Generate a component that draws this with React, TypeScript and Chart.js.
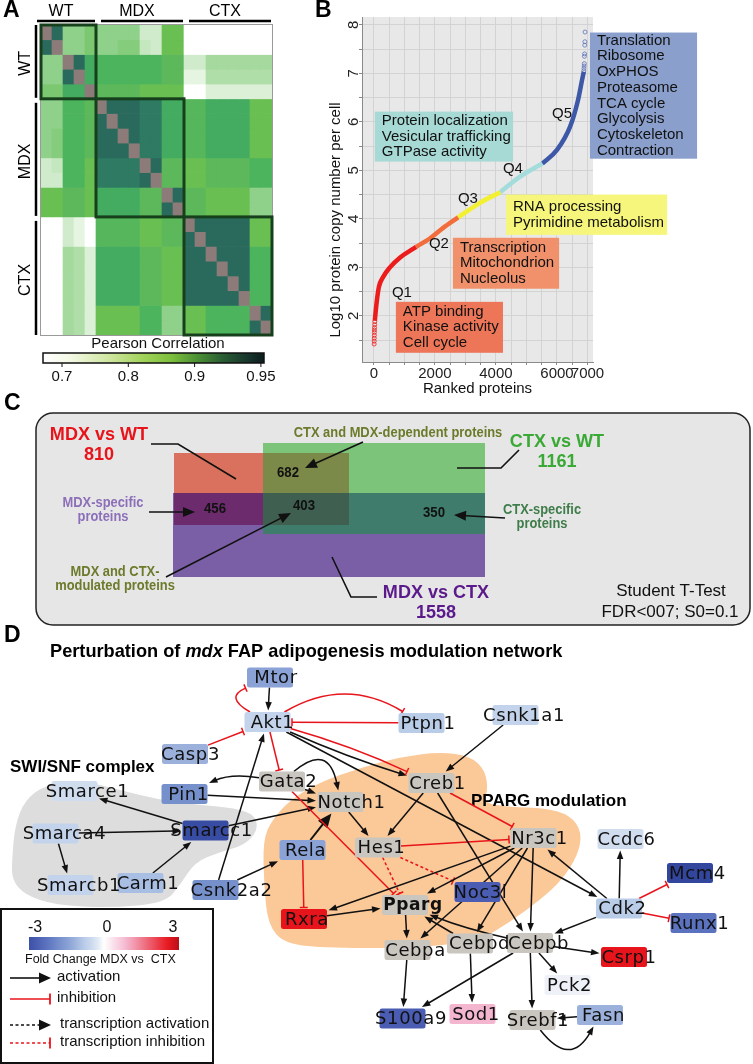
import React, { useEffect, useRef } from "react";
import { Chart, registerables } from "chart.js";

Chart.register(...registerables);

const SANS = "'Liberation Sans', Arial, Helvetica, sans-serif";
const NODE_FONT = "'DejaVu Sans', Verdana, sans-serif";

/* ================= Panel A data ================= */
const heatGroups = ["WT", "MDX", "CTX"];
const heatGroupSizes = [5, 8, 8];
const heatSamples = [
  "WT-1", "WT-2", "WT-3", "WT-4", "WT-5",
  "MDX-1", "MDX-2", "MDX-3", "MDX-4", "MDX-5", "MDX-6", "MDX-7", "MDX-8",
  "CTX-1", "CTX-2", "CTX-3", "CTX-4", "CTX-5", "CTX-6", "CTX-7", "CTX-8",
];
// Pearson correlation x100 (100 = self)
const heatCorr = [
  [100, 93, 80, 80, 82, 80, 80, 80, 80, 74, 74, 84, 84, 70, 70, 70, 70, 70, 70, 70, 70],
  [93, 100, 80, 80, 82, 80, 80, 81, 81, 75, 74, 84, 84, 70, 70, 70, 70, 70, 70, 70, 70],
  [80, 80, 100, 93, 87, 86, 86, 86, 86, 86, 86, 85, 85, 74, 74, 78, 78, 78, 78, 78, 78],
  [80, 80, 93, 100, 87, 86, 86, 86, 86, 86, 86, 85, 85, 72, 72, 77, 77, 77, 77, 77, 77],
  [82, 82, 87, 87, 100, 85, 85, 85, 85, 84, 84, 84, 84, 70, 70, 73, 73, 73, 73, 73, 73],
  [80, 80, 86, 86, 85, 100, 93, 93, 93, 91.5, 91.5, 87, 87, 85.5, 85.5, 87, 87, 87, 87, 84, 84],
  [80, 80, 86, 86, 85, 93, 100, 93, 93, 91.5, 91.5, 87, 87, 85.5, 85.5, 87, 87, 87, 87, 84, 84],
  [80, 81, 86, 86, 85, 93, 93, 100, 93, 91.5, 91.5, 87, 87, 85.5, 85.5, 87, 87, 87, 87, 84, 84],
  [80, 81, 86, 86, 85, 93, 93, 93, 100, 91.5, 91.5, 87, 87, 85.5, 85.5, 87, 87, 87, 87, 84, 84],
  [74, 75, 86, 86, 84, 91.5, 91.5, 91.5, 91.5, 100, 93, 85, 85, 84, 84, 85, 85, 85, 85, 86, 86],
  [74, 74, 86, 86, 84, 91.5, 91.5, 91.5, 91.5, 93, 100, 85, 85, 84, 84, 85, 85, 85, 85, 86, 86],
  [84, 84, 85, 85, 84, 87, 87, 87, 87, 85, 85, 100, 93, 85, 85, 84, 84, 84, 84, 80, 80],
  [84, 84, 85, 85, 84, 87, 87, 87, 87, 85, 85, 93, 100, 85, 85, 84, 84, 84, 84, 80, 80],
  [70, 70, 74, 72, 70, 85.5, 85.5, 85.5, 85.5, 84, 84, 85, 85, 100, 93, 93, 93, 93, 93, 84, 84],
  [70, 70, 74, 72, 70, 85.5, 85.5, 85.5, 85.5, 84, 84, 85, 85, 93, 100, 93, 93, 93, 93, 84, 84],
  [70, 70, 78, 77, 73, 87, 87, 87, 87, 85, 85, 84, 84, 93, 93, 100, 93, 93, 93, 86, 86],
  [70, 70, 78, 77, 73, 87, 87, 87, 87, 85, 85, 84, 84, 93, 93, 93, 100, 93, 93, 86, 86],
  [70, 70, 78, 77, 73, 87, 87, 87, 87, 85, 85, 84, 84, 93, 93, 93, 93, 100, 93, 86, 86],
  [70, 70, 78, 77, 73, 87, 87, 87, 87, 85, 85, 84, 84, 93, 93, 93, 93, 93, 100, 86, 86],
  [70, 70, 78, 77, 73, 84, 84, 84, 84, 86, 86, 80, 80, 84, 84, 86, 86, 86, 86, 100, 93],
  [70, 70, 78, 77, 73, 84, 84, 84, 84, 86, 86, 80, 80, 84, 84, 86, 86, 86, 86, 93, 100],
];
const corrTicks = [0.7, 0.8, 0.9, 0.95];

/* ================= Panel B data ================= */
const quintileNames = ["Q1", "Q2", "Q3", "Q4", "Q5"];
const q1Rank = [30, 60, 100, 165, 300, 525, 850, 1280, 1380];
const q1Log = [1.9, 2.1, 2.33, 2.6, 2.8, 3.0, 3.2, 3.38, 3.42];
const q2Rank = [1380, 1840, 2260, 2760];
const q2Log = [3.42, 3.6, 3.81, 4.03];
const q3Rank = [2760, 3475, 4140];
const q3Log = [4.03, 4.33, 4.55];
const q4Rank = [4140, 4790, 5520];
const q4Log = [4.55, 4.87, 5.14];
const q5Rank = [5520, 6000, 6430, 6690, 6850, 6880];
const q5Log = [5.14, 5.42, 5.9, 6.45, 6.95, 7.03];
const lowRank = [8, 10, 12, 14, 16, 18, 20, 24, 28];
const lowLog = [1.42, 1.48, 1.54, 1.6, 1.66, 1.71, 1.76, 1.82, 1.88];
const highRank = [6880, 6885, 6890, 6895, 6900, 6905, 6910, 6915, 6920];
const highLog = [7.05, 7.1, 7.15, 7.2, 7.35, 7.4, 7.58, 7.65, 7.85];
const xGridRanks = [0, 500, 1000, 1500, 2000, 2500, 3000, 3500, 4000, 4500, 5000, 5500, 6000, 6500, 7000];
const xTickLabels = [0, 2000, 4000, 6000, 7000];
const yGridValues = [1.5, 2, 2.5, 3, 3.5, 4, 4.5, 5, 5.5, 6, 6.5, 7, 7.5, 8];
const yTickLabels = [2, 3, 4, 5, 6, 7, 8];
const termGroups = [
  ["ATP binding", "Kinase activity", "Cell cycle"],
  ["Transcription", "Mitochondrion", "Nucleolus"],
  ["RNA processing", "Pyrimidine metabolism"],
  ["Protein localization", "Vesicular trafficking", "GTPase activity"],
  ["Translation", "Ribosome", "OxPHOS", "Proteasome", "TCA cycle", "Glycolysis", "Cytoskeleton", "Contraction"],
];
const qLabelRank = [918, 2131, 3082, 4557, 6164];
const qLabelLog = [2.47, 3.48, 4.41, 5.03, 6.16];

/* ================= Panel C data ================= */
const vennSets = ["MDX vs WT", "CTX vs WT", "MDX vs CTX"];
const vennTotals = [810, 1161, 1558];
const vennRegionNames = [
  ["CTX and MDX-dependent proteins"],
  ["MDX-specific", "proteins"],
  ["MDX and CTX-", "modulated proteins"],
  ["CTX-specific", "proteins"],
];
const vennRegionCounts = [682, 456, 403, 350];

/* ================= Panel D data ================= */
const geneNames = [
  "Mtor", "Akt1", "Casp3", "Pin1", "Gata2", "Notch1", "Smarce1", "Smarca4", "Smarcc1", "Rela",
  "Hes1", "Smarcb1", "Carm1", "Csnk2a2", "Ptpn1", "Csnk1a1", "Creb1", "Nr3c1", "Ccdc6", "Mcm4",
  "Noc3l", "Cdk2", "Runx1", "Rxra", "Pparg", "Cebpa", "Cebpd", "Cebpb", "Csrp1", "Pck2",
  "S100a9", "Sod1", "Srebf1", "Fasn",
];
// fold change MDX vs CTX (null = not quantified, grey)
const geneFoldChange = [
  -1.4, -0.6, -1.2, -1.8, null, null, -0.45, -0.6, -3.2, -1.4,
  null, -0.6, -1.0, -1.8, -0.8, -0.6, null, null, -0.45, -3.4,
  -2.7, -0.8, -2.3, 2.6, null, null, null, null, 2.6, -0.1,
  -2.7, 0.9, null, -1.2,
];
const networkEdges = [
  ["Mtor", "Akt1", "act", 0],
  ["Akt1", "Mtor", "inh", 1.0],
  ["Casp3", "Akt1", "inh", 0],
  ["Ptpn1", "Akt1", "inh", 0],
  ["Akt1", "Ptpn1", "inh", 0.3],
  ["Akt1", "Gata2", "inh", 0],
  ["Akt1", "Creb1", "act", -0.03],
  ["Akt1", "Creb1", "inh", 0.04],
  ["Akt1", "Cdk2", "act", 0],
  ["Csnk2a2", "Akt1", "act", 0],
  ["Gata2", "Pin1", "act", -0.15],
  ["Gata2", "Notch1", "act", 0.85],
  ["Gata2", "Notch1", "act", 0],
  ["Pin1", "Notch1", "act", 0],
  ["Smarcc1", "Notch1", "act", 0],
  ["Smarcc1", "Smarce1", "act", 0],
  ["Smarca4", "Smarcc1", "act", 0],
  ["Smarca4", "Smarcb1", "act", 0],
  ["Carm1", "Smarcc1", "act", 0],
  ["Csnk2a2", "Rela", "act", 0],
  ["Rela", "Notch1", "act", 0, 2],
  ["Rela", "Rxra", "inh", 0],
  ["Gata2", "Pparg", "inh", 0],
  ["Notch1", "Hes1", "act", 0],
  ["Creb1", "Hes1", "act", 0],
  ["Creb1", "Nr3c1", "inh", 0],
  ["Hes1", "Nr3c1", "inh", 0],
  ["Hes1", "Pparg", "tinh", 0],
  ["Hes1", "Noc3l", "tinh", 0],
  ["Csnk1a1", "Creb1", "act", 0],
  ["Creb1", "Cebpb", "act", 0],
  ["Nr3c1", "Rxra", "act", 0],
  ["Nr3c1", "Pparg", "act", 0],
  ["Nr3c1", "Cebpa", "act", 0],
  ["Nr3c1", "Cebpd", "act", 0],
  ["Nr3c1", "Cebpb", "act", 0],
  ["Cdk2", "Nr3c1", "act", 0],
  ["Cdk2", "Ccdc6", "act", 0],
  ["Cdk2", "Mcm4", "inh", 0],
  ["Cdk2", "Runx1", "inh", 0],
  ["Cdk2", "Cebpb", "act", 0],
  ["Rxra", "Pparg", "act", 0],
  ["Cebpb", "Pparg", "act", 0.04],
  ["Cebpd", "Pparg", "act", 0],
  ["Pparg", "Cebpa", "act", 0],
  ["Cebpa", "S100a9", "act", 0],
  ["Cebpd", "Sod1", "act", 0],
  ["Cebpb", "S100a9", "act", 0],
  ["Cebpb", "Srebf1", "act", 0],
  ["Cebpb", "Pck2", "act", 0],
  ["Cebpb", "Csrp1", "act", 0],
  ["Fasn", "Srebf1", "act", 0],
  ["Srebf1", "Fasn", "act", -0.75],
];
const legendTypes = ["act", "inh", "tact", "tinh"];
const legendNames = ["activation", "inhibition", "transcription activation", "transcription inhibition"];
const fcTicks = [-3, 0, 3];

/* ================= layout / style (not data) ================= */
const HEAT_STOPS = [
  [70, "#ffffff"], [72, "#e6f5e2"], [74, "#d0ebcb"], [77, "#b0dea8"], [80, "#8fd08a"], [82, "#7cc870"],
  [84, "#6abf52"], [85, "#5cb85a"], [86, "#4db45e"], [87, "#43ac60"], [91.5, "#2e7a63"], [93, "#2a6a5d"], [95, "#163b33"],
];
const DIAG_COLOR = "#8c7b78";
const CBAR_STOPS = [
  [0, "#ffffff"], [0.12, "#f4f9e6"], [0.3, "#cfe6a0"], [0.45, "#a2d35c"], [0.58, "#7dbf3c"],
  [0.7, "#4b8f35"], [0.82, "#285a33"], [0.93, "#16342c"], [1, "#0c1c1c"],
];
const Q_COLORS = ["#ec1c1c", "#f26c3c", "#f3f032", "#a4dcdc", "#3e58a8"];
const TERM_BOX = [
  [720, 4230, 2.29, 1.24], [2590, 6070, 3.61, 2.56], [4330, 9610, 4.5, 3.67],
  [30, 4560, 6.21, 5.18], [7080, 10590, 7.84, 5.24],
];
const TERM_COLORS = ["#ee7658", "#f1916b", "#f6f67c", "#a7d9d5", "#8a9fcc"];

const VENN_RECTS = [[174, 453, 349, 525], [263, 443, 485, 534], [173, 493, 485, 577]];
const VENN_FILLS = ["#d9715e", "#7dc47b", "#7b5fa6"];
const VENN_RG = "#7b8a49", VENN_RP = "#6c2b6d", VENN_GP = "#3f7c6b", VENN_RGP = "#3f5f50";
const VENN_SET_POS = [[99, 435], [557, 442], [436, 593]];
const VENN_SET_COLORS = ["#e8141b", "#3aa935", "#5b1a8b"];
const VENN_COUNT_POS = [[288, 473], [215, 509], [304, 506], [434, 513]];
const VENN_REGION_POS = [[398, 433], [103, 503], [115, 572], [542, 510]];
const VENN_REGION_COLORS = ["#6b7b2b", "#8c6fb8", "#6b7b2b", "#3f7d4a"];
const VENN_LEADERS = [
  [[[151, 444], [178, 444], [236, 479]], false],
  [[[519, 450], [501, 468], [457, 468]], false],
  [[[363, 442], [305, 468]], true],
  [[[149, 512], [195, 512]], true],
  [[[505, 518], [454, 515]], true],
  [[[166, 577], [291, 513]], true],
  [[[377, 597], [351, 597], [332, 557]], false],
];

const NODE_X = [
  270, 267.5, 185, 184.5, 282, 340.5, 74.5, 55.5, 205.5, 302.5,
  378, 70.5, 140.5, 215.5, 421.5, 515.5, 431.5, 533.5, 620.5, 690,
  477.5, 619, 693.5, 304, 405, 407.5, 470, 530, 624, 567.5,
  402.5, 472.5, 532.5, 600,
];
const NODE_Y = [
  677.5, 722, 754, 794, 781.5, 802, 791, 833.5, 830.5, 850,
  847.5, 885, 883, 890, 723, 715, 783, 838, 839, 873,
  892, 908.5, 923, 919, 905, 950, 943.5, 943, 957, 985,
  1018.5, 1014, 1020, 1015,
];
const LABEL_DX = [
  6, 5, 5.5, 4, 6.5, 11, 13, 9, 6, 3,
  3.5, 8.5, 7.5, 16, 6.5, 8.5, 6, 6, 6, 7.5,
  3, 3.5, 6, 3, 8, 8, 9.5, 8.5, 5, 2,
  8.5, 3.5, 5.5, 3.5,
];
const FC_STOPS = [
  [-3.4, "#33469d"], [-3, "#3c52a6"], [-2.7, "#4a5db2"], [-2.3, "#5b72bf"], [-1.8, "#7690cc"],
  [-1.4, "#8aa2d6"], [-1.2, "#9bb0da"], [-1.0, "#a9bee3"], [-0.8, "#b9cce8"], [-0.6, "#c3d3eb"],
  [-0.45, "#d0ddef"], [-0.1, "#eef2f8"], [0, "#ffffff"], [0.9, "#f4b6cf"], [2.6, "#e8141b"], [3.0, "#b5121b"],
];
const GREY_NODE = "#c9c5bf";
const SWI_BLOB = [
  [12, 860], [15, 825], [25, 800], [45, 785], [80, 780], [120, 790], [160, 800], [200, 805], [235, 808],
  [255, 815], [258, 830], [245, 845], [220, 852], [195, 862], [180, 885], [165, 903], [110, 908], [55, 905],
  [25, 895], [12, 880],
];
const PPARG_BLOB = [
  [263, 840], [272, 820], [290, 800], [320, 782], [360, 768], [400, 757], [440, 752], [470, 756], [485, 770],
  [488, 790], [483, 803], [510, 807], [545, 808], [570, 815], [582, 832], [578, 855], [562, 880], [540, 900],
  [510, 922], [480, 940], [420, 948], [330, 948], [285, 944], [268, 925], [264, 885],
];
const RED = "#e8141b";
const INK = "#111111";
const C_TOP = 385;
const D_TOP = 615;

/* ================= helpers ================= */
function hexRgb(c) {
  const n = parseInt(c.slice(1), 16);
  return [(n >> 16) & 255, (n >> 8) & 255, n & 255];
}
function rampColor(stops, v) {
  if (v <= stops[0][0]) return stops[0][1];
  for (let i = 1; i < stops.length; i++) {
    if (v <= stops[i][0]) {
      const t = (v - stops[i - 1][0]) / (stops[i][0] - stops[i - 1][0]);
      const a = hexRgb(stops[i - 1][1]);
      const b = hexRgb(stops[i][1]);
      return `rgb(${Math.round(a[0] + (b[0] - a[0]) * t)},${Math.round(a[1] + (b[1] - a[1]) * t)},${Math.round(a[2] + (b[2] - a[2]) * t)})`;
    }
  }
  return stops[stops.length - 1][1];
}
function heatColor(v) {
  return v >= 100 ? DIAG_COLOR : rampColor(HEAT_STOPS, v);
}
function txt(ctx, s, x, y, font, color, align = "left", base = "middle") {
  ctx.font = font;
  ctx.fillStyle = color;
  ctx.textAlign = align;
  ctx.textBaseline = base;
  ctx.fillText(s, x, y);
}
function stxt(ctx, s, x, y, font, color, sx) {
  ctx.save();
  ctx.translate(x, y);
  ctx.scale(sx, 1);
  txt(ctx, s, 0, 0, font, color, "center");
  ctx.restore();
}
function vtxt(ctx, s, x, y, font, color) {
  ctx.save();
  ctx.translate(x, y);
  ctx.rotate(-Math.PI / 2);
  txt(ctx, s, 0, 0, font, color, "center");
  ctx.restore();
}
function seg(ctx, x1, y1, x2, y2, color, w) {
  ctx.beginPath();
  ctx.moveTo(x1, y1);
  ctx.lineTo(x2, y2);
  ctx.strokeStyle = color;
  ctx.lineWidth = w;
  ctx.stroke();
}
function arrowHead(ctx, fx, fy, tx, ty, len, wid, color) {
  const a = Math.atan2(ty - fy, tx - fx);
  const c = Math.cos(a), s = Math.sin(a);
  ctx.beginPath();
  ctx.moveTo(tx, ty);
  ctx.lineTo(tx - len * c + (wid / 2) * s, ty - len * s - (wid / 2) * c);
  ctx.lineTo(tx - len * c - (wid / 2) * s, ty - len * s + (wid / 2) * c);
  ctx.closePath();
  ctx.fillStyle = color;
  ctx.fill();
}
function tBar(ctx, fx, fy, tx, ty, len, color, w) {
  const a = Math.atan2(ty - fy, tx - fx);
  const px = -Math.sin(a), py = Math.cos(a);
  seg(ctx, tx - (px * len) / 2, ty - (py * len) / 2, tx + (px * len) / 2, ty + (py * len) / 2, color, w);
}
function smoothClosed(ctx, pts) {
  const n = pts.length;
  const mid = (a, b) => [(a[0] + b[0]) / 2, (a[1] + b[1]) / 2];
  const m0 = mid(pts[n - 1], pts[0]);
  ctx.beginPath();
  ctx.moveTo(m0[0], m0[1]);
  for (let i = 0; i < n; i++) {
    const p = pts[i];
    const m = mid(p, pts[(i + 1) % n]);
    ctx.quadraticCurveTo(p[0], p[1], m[0], m[1]);
  }
  ctx.closePath();
}
function panelLetter(ctx, s, x, y) {
  txt(ctx, s, x, y, `bold 23px ${SANS}`, "#000", "left", "middle");
}
const baseOptions = {
  responsive: false,
  animation: false,
  devicePixelRatio: 1,
  events: [],
  plugins: { legend: { display: false }, tooltip: { enabled: false } },
};

/* ================= Panel A ================= */
const heatPlugin = {
  id: "heatDecor",
  afterDraw(chart) {
    const ctx = chart.ctx;
    const xs = chart.scales.x, ys = chart.scales.y;
    const n = heatSamples.length;
    const step = xs.getPixelForValue(1) - xs.getPixelForValue(0);
    const xb = (i) => xs.getPixelForValue(i) - step / 2;
    const yb = (i) => ys.getPixelForValue(i);
    ctx.save();
    ctx.strokeStyle = "#9a9a9a";
    ctx.lineWidth = 1;
    ctx.strokeRect(xb(0) - 0.5, yb(0) - 0.5, xb(n) - xb(0) + 1, yb(n) - yb(0) + 1);
    let s = 0;
    heatGroups.forEach((g, gi) => {
      const e = s + heatGroupSizes[gi];
      ctx.strokeStyle = "#16401c";
      ctx.lineWidth = 3;
      ctx.strokeRect(xb(s), yb(s), xb(e) - xb(s), yb(e) - yb(s));
      const lx0 = xb(s) + (gi ? 5 : -4), lx1 = xb(e) - 1;
      seg(ctx, lx0, 21, lx1, 21, "#000", 2.5);
      txt(ctx, g, (lx0 + lx1) / 2 - 5, 12, `16px ${SANS}`, "#000", "center");
      const ly0 = yb(s) + (gi ? 4 : 0), ly1 = yb(e) - (gi < 2 ? 1 : 0);
      seg(ctx, 36, ly0, 36, ly1, "#000", 2.5);
      vtxt(ctx, g, 26, (ly0 + ly1) / 2 + 2, `16px ${SANS}`, "#000");
      s = e;
    });
    // color bar
    const bx0 = 43, bx1 = 264, by0 = 353, by1 = 363;
    const grad = ctx.createLinearGradient(bx0, 0, bx1, 0);
    CBAR_STOPS.forEach(([f, c]) => grad.addColorStop(f, c));
    ctx.fillStyle = grad;
    ctx.fillRect(bx0, by0, bx1 - bx0, by1 - by0);
    ctx.strokeStyle = "#111";
    ctx.lineWidth = 1.5;
    ctx.strokeRect(bx0, by0, bx1 - bx0, by1 - by0);
    corrTicks.forEach((t, i) => {
      const x = 62 + i * 66.3;
      seg(ctx, x, by1, x, by1 + 4, "#111", 1);
      txt(ctx, String(t), x, 377, `15px ${SANS}`, "#111", "center");
    });
    txt(ctx, "Pearson Correlation", 158, 344, `15px ${SANS}`, "#111", "center");
    panelLetter(ctx, "A", 3, 11);
    ctx.restore();
  },
};

function HeatmapPanel() {
  const ref = useRef(null);
  useEffect(() => {
    const chart = new Chart(ref.current, {
      type: "bar",
      data: {
        labels: heatSamples,
        datasets: heatCorr.map((row, r) => ({
          label: heatSamples[r],
          data: row.map(() => 1),
          backgroundColor: row.map((v) => heatColor(v)),
          borderWidth: 0,
          barPercentage: 1,
          categoryPercentage: 1,
          stack: "m",
        })),
      },
      options: {
        ...baseOptions,
        layout: { padding: { left: 41, top: 25, right: 18, bottom: 65 } },
        scales: {
          x: { display: false, stacked: true },
          y: { display: false, stacked: true, min: 0, max: heatSamples.length, reverse: true },
        },
      },
      plugins: [heatPlugin],
    });
    return () => chart.destroy();
  }, []);
  return <canvas ref={ref} width={290} height={400} style={{ position: "absolute", left: 0, top: 0 }} />;
}

/* ================= Panel B ================= */
const rankPlugin = {
  id: "rankDecor",
  beforeDraw(chart) {
    const { ctx, chartArea: a } = chart;
    ctx.save();
    ctx.fillStyle = "#e8e8e8";
    ctx.fillRect(a.left, a.top, a.right - a.left, a.bottom - a.top);
    ctx.restore();
  },
  afterDatasetsDraw(chart) {
    const ctx = chart.ctx;
    const xs = chart.scales.x, ys = chart.scales.y;
    ctx.save();
    termGroups.forEach((lines, i) => {
      const [r0, r1, v0, v1] = TERM_BOX[i];
      const x0 = xs.getPixelForValue(r0), x1 = xs.getPixelForValue(r1);
      const y0 = ys.getPixelForValue(v0), y1 = ys.getPixelForValue(v1);
      ctx.fillStyle = TERM_COLORS[i];
      ctx.fillRect(x0, y0, x1 - x0, y1 - y0);
      const lh = 15.7;
      const top = (y0 + y1) / 2 - (lines.length * lh) / 2 + lh / 2;
      lines.forEach((l, k) => txt(ctx, l, x0 + 7, top + k * lh, `15px ${SANS}`, "#111"));
    });
    quintileNames.forEach((q, i) => {
      txt(ctx, q, xs.getPixelForValue(qLabelRank[i]), ys.getPixelForValue(qLabelLog[i]), `15px ${SANS}`, "#111", "center");
    });
    ctx.restore();
  },
  afterDraw(chart) {
    const ctx = chart.ctx;
    const ys = chart.scales.y;
    ctx.save();
    yTickLabels.forEach((v) => vtxt(ctx, String(v), 74, ys.getPixelForValue(v), `15px ${SANS}`, "#222"));
    vtxt(ctx, "Log10 protein copy number per cell", 56, 220, `15px ${SANS}`, "#111");
    panelLetter(ctx, "B", 35, 11);
    ctx.restore();
  },
};

function RankPanel() {
  const ref = useRef(null);
  useEffect(() => {
    const pairs = (xs, ys) => xs.map((x, i) => ({ x, y: ys[i] }));
    const curves = [
      [q1Rank, q1Log], [q2Rank, q2Log], [q3Rank, q3Log], [q4Rank, q4Log], [q5Rank, q5Log],
    ];
    const chart = new Chart(ref.current, {
      type: "scatter",
      data: {
        datasets: [
          ...curves.map(([r, l], i) => ({
            label: quintileNames[i],
            data: pairs(r, l),
            showLine: true,
            borderColor: Q_COLORS[i],
            backgroundColor: Q_COLORS[i],
            borderWidth: 4.5,
            pointRadius: 0,
            cubicInterpolationMode: "monotone",
            fill: false,
          })),
          {
            label: "low",
            data: pairs(lowRank, lowLog),
            showLine: false,
            pointRadius: 2,
            borderWidth: 0.8,
            borderColor: Q_COLORS[0],
            backgroundColor: "rgba(0,0,0,0)",
          },
          {
            label: "high",
            data: pairs(highRank, highLog),
            showLine: false,
            pointRadius: 2,
            borderWidth: 0.8,
            borderColor: "#5d74b8",
            backgroundColor: "rgba(0,0,0,0)",
          },
        ],
      },
      options: {
        ...baseOptions,
        layout: { padding: { left: 42, top: 17, right: 160, bottom: 0 } },
        scales: {
          x: {
            type: "linear",
            min: -390,
            max: 7180,
            afterBuildTicks: (s) => {
              s.ticks = xGridRanks.map((v) => ({ value: v }));
            },
            afterFit: (s) => {
              s.height = 38;
            },
            ticks: {
              autoSkip: false,
              maxRotation: 0,
              padding: 0,
              font: { family: SANS, size: 15 },
              color: "#222",
              callback: (v) => (xTickLabels.includes(v) ? String(v) : ""),
            },
            grid: { color: "#d3d3d3", lineWidth: 1, tickLength: 3, tickColor: "#8a8a8a" },
            border: { display: true, color: "#8a8a8a" },
            title: {
              display: true,
              text: "Ranked proteins",
              font: { family: SANS, size: 15 },
              color: "#111",
              padding: { top: 0, bottom: 2 },
            },
          },
          y: {
            type: "linear",
            min: 1.05,
            max: 8.16,
            afterBuildTicks: (s) => {
              s.ticks = yGridValues.map((v) => ({ value: v }));
            },
            afterFit: (s) => {
              s.width = 40;
            },
            ticks: { display: false },
            grid: { color: "#d3d3d3", lineWidth: 1, tickLength: 3, tickColor: "#8a8a8a" },
            border: { display: true, color: "#8a8a8a" },
          },
        },
      },
      plugins: [rankPlugin],
    });
    return () => chart.destroy();
  }, []);
  return <canvas ref={ref} width={473} height={400} style={{ position: "absolute", left: 280, top: 0 }} />;
}

/* ================= Panel C ================= */
function inter(a, b) {
  return [Math.max(a[0], b[0]), Math.max(a[1], b[1]), Math.min(a[2], b[2]), Math.min(a[3], b[3])];
}
const vennPlugin = {
  id: "vennDecor",
  beforeDatasetsDraw(chart) {
    const ctx = chart.ctx;
    const X = (v) => chart.scales.x.getPixelForValue(v);
    const Y = (v) => chart.scales.y.getPixelForValue(v);
    const rect = (r, c) => {
      ctx.fillStyle = c;
      ctx.fillRect(X(r[0]), Y(r[1]), X(r[2]) - X(r[0]), Y(r[3]) - Y(r[1]));
    };
    ctx.save();
    panelLetter(ctx, "C", X(4), Y(404));
    ctx.beginPath();
    ctx.roundRect(X(36), Y(413), X(750) - X(36), Y(625) - Y(413), 17);
    ctx.fillStyle = "#e6e6e6";
    ctx.fill();
    ctx.strokeStyle = "#222";
    ctx.lineWidth = 1.5;
    ctx.stroke();
    VENN_RECTS.forEach((r, i) => rect(r, VENN_FILLS[i]));
    const [R, G, P] = VENN_RECTS;
    rect(inter(R, G), VENN_RG);
    rect(inter(R, P), VENN_RP);
    rect(inter(G, P), VENN_GP);
    rect(inter(inter(R, G), P), VENN_RGP);
    VENN_LEADERS.forEach(([pts, arrow]) => {
      ctx.beginPath();
      const n = pts.length;
      let ex = X(pts[n - 1][0]), ey = Y(pts[n - 1][1]);
      const px = X(pts[n - 2][0]), py = Y(pts[n - 2][1]);
      if (arrow) {
        const a = Math.atan2(ey - py, ex - px);
        ex -= 8 * Math.cos(a);
        ey -= 8 * Math.sin(a);
      }
      pts.forEach((p, k) => {
        const x = k === n - 1 ? ex : X(p[0]);
        const y = k === n - 1 ? ey : Y(p[1]);
        if (k === 0) ctx.moveTo(x, y);
        else ctx.lineTo(x, y);
      });
      ctx.strokeStyle = "#111";
      ctx.lineWidth = 1.6;
      ctx.stroke();
      if (arrow) arrowHead(ctx, px, py, X(pts[n - 1][0]), Y(pts[n - 1][1]), 12, 10, "#111");
    });
    ctx.restore();
  },
  afterDatasetsDraw(chart) {
    const ctx = chart.ctx;
    const X = (v) => chart.scales.x.getPixelForValue(v);
    const Y = (v) => chart.scales.y.getPixelForValue(v);
    const meta = chart.getDatasetMeta(0);
    ctx.save();
    vennRegionCounts.forEach((c, i) => {
      const el = meta.data[i];
      stxt(ctx, String(c), el.x, el.y, `bold 15px ${SANS}`, "#111", 0.88);
    });
    vennSets.forEach((s, i) => {
      const [x, y] = VENN_SET_POS[i];
      stxt(ctx, s, X(x), Y(y), `bold 19px ${SANS}`, VENN_SET_COLORS[i], 0.95);
      stxt(ctx, String(vennTotals[i]), X(x), Y(y + 20), `bold 19px ${SANS}`, VENN_SET_COLORS[i], 0.95);
    });
    vennRegionNames.forEach((lines, i) => {
      const [x, y] = VENN_REGION_POS[i];
      lines.forEach((l, k) =>
        stxt(ctx, l, X(x), Y(y + k * 13.5), `bold 15px ${SANS}`, VENN_REGION_COLORS[i], 0.86)
      );
    });
    txt(ctx, "Student T-Test", X(671), Y(591), `17px ${SANS}`, "#111", "center");
    txt(ctx, "FDR<007; S0=0.1", X(670), Y(612), `17px ${SANS}`, "#111", "center");
    ctx.restore();
  },
};

function VennPanel() {
  const ref = useRef(null);
  useEffect(() => {
    const chart = new Chart(ref.current, {
      type: "scatter",
      data: {
        datasets: [
          {
            label: "overlaps",
            data: vennRegionCounts.map((c, i) => ({ x: VENN_COUNT_POS[i][0], y: VENN_COUNT_POS[i][1] })),
            pointRadius: 0,
            showLine: false,
          },
        ],
      },
      options: {
        ...baseOptions,
        layout: { padding: 0 },
        scales: {
          x: { type: "linear", display: false, min: 0, max: 753 },
          y: { type: "linear", display: false, min: C_TOP, max: 630, reverse: true },
        },
      },
      plugins: [vennPlugin],
    });
    return () => chart.destroy();
  }, []);
  return <canvas ref={ref} width={753} height={630 - C_TOP} style={{ position: "absolute", left: 0, top: C_TOP }} />;
}

/* ================= Panel D ================= */
function clipBox(c, t, hw, hh) {
  const dx = t.x - c.x, dy = t.y - c.y;
  const sx = dx ? hw / Math.abs(dx) : Infinity;
  const sy = dy ? hh / Math.abs(dy) : Infinity;
  const s = Math.min(sx, sy);
  if (s >= 1) return { x: c.x, y: c.y };
  return { x: c.x + dx * s, y: c.y + dy * s };
}
function drawEdge(ctx, a, b, type, bend, weight) {
  const ctrl = bend ? { x: (a.x + b.x) / 2 + bend * (b.y - a.y), y: (a.y + b.y) / 2 - bend * (b.x - a.x) } : null;
  const s = clipBox(a, ctrl || b, 23, 10);
  const e = clipBox(b, ctrl || a, 24.5, 11.5);
  const red = type === "inh" || type === "tinh";
  const color = red ? RED : INK;
  const from = ctrl || s;
  const ang = Math.atan2(e.y - from.y, e.x - from.x);
  const big = weight && weight > 1;
  const hl = red ? 0 : big ? 14 : 8.5;
  const le = { x: e.x - hl * 0.75 * Math.cos(ang), y: e.y - hl * 0.75 * Math.sin(ang) };
  ctx.save();
  ctx.beginPath();
  ctx.moveTo(s.x, s.y);
  if (ctrl) ctx.quadraticCurveTo(ctrl.x, ctrl.y, le.x, le.y);
  else ctx.lineTo(le.x, le.y);
  ctx.strokeStyle = color;
  ctx.lineWidth = big ? 2 : 1.5;
  ctx.setLineDash(type[0] === "t" ? [3, 2.5] : []);
  ctx.stroke();
  ctx.setLineDash([]);
  if (red) tBar(ctx, from.x, from.y, e.x, e.y, 8, color, 1.5);
  else arrowHead(ctx, from.x, from.y, e.x, e.y, hl, big ? 12 : 6.5, color);
  ctx.restore();
}
const netPlugin = {
  id: "netDecor",
  beforeDatasetsDraw(chart) {
    const ctx = chart.ctx;
    const X = (v) => chart.scales.x.getPixelForValue(v);
    const Y = (v) => chart.scales.y.getPixelForValue(v);
    ctx.save();
    panelLetter(ctx, "D", X(4), Y(636));
    // title with italic part
    let x = X(50);
    const y = Y(652);
    const parts = [["Perturbation of ", "bold"], ["mdx", "italic bold"], [" FAP adipogenesis modulation network", "bold"]];
    parts.forEach(([s, f]) => {
      ctx.font = `${f} 18.2px ${SANS}`;
      txt(ctx, s, x, y, ctx.font, "#000");
      x += ctx.measureText(s).width;
    });
    smoothClosed(ctx, SWI_BLOB.map((p) => [X(p[0]), Y(p[1])]));
    ctx.fillStyle = "#dddddd";
    ctx.fill();
    smoothClosed(ctx, PPARG_BLOB.map((p) => [X(p[0]), Y(p[1])]));
    ctx.fillStyle = "#fbc898";
    ctx.fill();
    txt(ctx, "SWI/SNF complex", X(10), Y(767), `bold 17px ${SANS}`, "#000");
    txt(ctx, "PPARG modulation", X(471), Y(801), `bold 17px ${SANS}`, "#000");
    ctx.restore();
  },
  afterDatasetsDraw(chart) {
    const ctx = chart.ctx;
    const X = (v) => chart.scales.x.getPixelForValue(v);
    const Y = (v) => chart.scales.y.getPixelForValue(v);
    const meta = chart.getDatasetMeta(0);
    const pos = geneNames.map((_, i) => ({ x: meta.data[i].x, y: meta.data[i].y }));
    const idx = (n) => geneNames.indexOf(n);
    ctx.save();
    networkEdges.forEach(([f, t, type, bend, w]) => drawEdge(ctx, pos[idx(f)], pos[idx(t)], type, bend, w));
    geneNames.forEach((g, i) => {
      const p = pos[i];
      const fc = geneFoldChange[i];
      ctx.beginPath();
      ctx.roundRect(p.x - 23, p.y - 10, 46, 20, 2.5);
      ctx.fillStyle = fc === null ? GREY_NODE : rampColor(FC_STOPS, fc);
      ctx.fill();
    });
    ctx.letterSpacing = "0.6px";
    geneNames.forEach((g, i) => {
      const p = pos[i];
      const bold = g === "Pparg";
      txt(ctx, g, p.x + LABEL_DX[i], p.y + 1, `${bold ? "bold 17px" : "18px"} ${NODE_FONT}`, INK, "center");
    });
    ctx.letterSpacing = "0px";
    // legend
    ctx.strokeStyle = "#111";
    ctx.lineWidth = 2;
    ctx.strokeRect(X(1), Y(909), X(213) - X(1), Y(1063) - Y(909));
    const gx0 = X(29), gx1 = X(179);
    const grad = ctx.createLinearGradient(gx0, 0, gx1, 0);
    for (let k = 0; k <= 24; k++) grad.addColorStop(k / 24, rampColor(FC_STOPS, -3 + (6 * k) / 24));
    ctx.fillStyle = grad;
    ctx.fillRect(gx0, Y(937), gx1 - gx0, Y(950) - Y(937));
    fcTicks.forEach((t, k) => {
      const tx = [35, 107, 173][k];
      txt(ctx, String(t), X(tx), Y(928), `16px ${SANS}`, "#111", "center");
    });
    txt(ctx, "Fold Change MDX vs  CTX", X(25), Y(960), `12.5px ${SANS}`, "#111");
    const ly = [978, 999, 1025, 1043];
    const lx = [57, 57, 60, 60];
    legendTypes.forEach((type, k) => {
      const y = Y(ly[k]);
      const red = type === "inh" || type === "tinh";
      const color = red ? RED : INK;
      ctx.beginPath();
      ctx.moveTo(X(10), y);
      ctx.lineTo(X(red ? 50 : 42), y);
      ctx.strokeStyle = color;
      ctx.lineWidth = 1.6;
      ctx.setLineDash(type[0] === "t" ? [3, 2.5] : []);
      ctx.stroke();
      ctx.setLineDash([]);
      if (red) tBar(ctx, X(10), y, X(50), y, 11, color, 1.8);
      else arrowHead(ctx, X(10), y, X(51), y, 12, 11, color);
      txt(ctx, legendNames[k], X(lx[k]), y - 1, `15px ${SANS}`, "#111");
    });
    ctx.restore();
  },
};

function NetworkPanel() {
  const ref = useRef(null);
  useEffect(() => {
    const chart = new Chart(ref.current, {
      type: "scatter",
      data: {
        datasets: [
          {
            label: "genes",
            data: geneNames.map((g, i) => ({ x: NODE_X[i], y: NODE_Y[i] })),
            pointRadius: 0,
            showLine: false,
          },
        ],
      },
      options: {
        ...baseOptions,
        layout: { padding: 0 },
        scales: {
          x: { type: "linear", display: false, min: 0, max: 753 },
          y: { type: "linear", display: false, min: D_TOP, max: 1064, reverse: true },
        },
      },
      plugins: [netPlugin],
    });
    return () => chart.destroy();
  }, []);
  return <canvas ref={ref} width={753} height={1064 - D_TOP} style={{ position: "absolute", left: 0, top: D_TOP }} />;
}

export default function App() {
  return (
    <div style={{ position: "absolute", left: 0, top: 0, width: 753, height: 1064, background: "#fff", overflow: "hidden" }}>
      <HeatmapPanel />
      <RankPanel />
      <VennPanel />
      <NetworkPanel />
    </div>
  );
}
